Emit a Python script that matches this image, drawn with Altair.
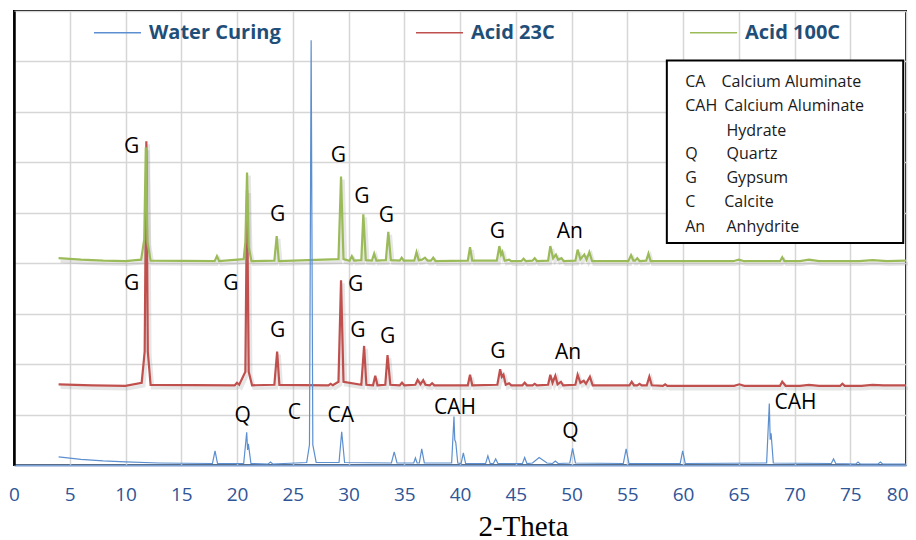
import altair as alt
import pandas as pd

# ---- data (2-Theta, intensity above each series' own baseline) ----
SERIES = ["Water Curing", "Acid 23C", "Acid 100C"]
COLORS = ["#5B8FD0", "#C0504D", "#9BBB59"]
OFFSETS = [0.0, 1.55, 4.02]

water_curing = [
    (4.0, 0.16), (6, 0.11), (8, 0.08), (10, 0.06), (13, 0.04), (17.8, 0.03), (18.03, 0.28), (18.25, 0.03),
    (20.6, 0.03), (20.87, 0.65), (20.95, 0.3), (21.02, 0.42), (21.25, 0.03),
    (22.8, 0.02), (23.0, 0.06), (23.2, 0.02),
    (26.25, 0.05), (26.5, 0.4), (26.65, 8.42), (26.8, 0.4), (27.1, 0.05),
    (29.15, 0.05), (29.39, 0.66), (29.65, 0.05),
    (33.85, 0.04), (34.1, 0.26), (34.35, 0.04),
    (35.85, 0.04), (36.0, 0.14), (36.15, 0.04), (36.35, 0.04), (36.57, 0.32), (36.8, 0.04),
    (39.25, 0.04), (39.46, 0.96), (39.53, 0.5), (39.62, 0.45), (39.8, 0.04),
    (40.1, 0.03), (40.3, 0.24), (40.5, 0.03),
    (42.3, 0.03), (42.5, 0.18), (42.7, 0.03), (43.0, 0.03), (43.2, 0.12), (43.4, 0.03),
    (45.6, 0.03), (45.8, 0.15), (46.0, 0.03), (46.5, 0.04), (47.1, 0.15), (47.8, 0.04),
    (48.3, 0.03), (48.55, 0.08), (48.8, 0.03),
    (49.85, 0.04), (50.1, 0.33), (50.35, 0.04),
    (54.65, 0.03), (54.9, 0.32), (55.15, 0.03),
    (59.75, 0.03), (59.97, 0.28), (60.2, 0.03),
    (67.5, 0.04), (67.74, 1.22), (67.82, 0.5), (67.9, 0.63), (68.1, 0.04),
    (73.3, 0.03), (73.5, 0.12), (73.7, 0.03),
    (75.5, 0.02), (75.7, 0.06), (75.9, 0.02),
    (77.5, 0.02), (77.7, 0.06), (77.9, 0.02), (80, 0.02),
]

acid_23c = [
    (4.0, 0.05), (7, 0.03), (10, 0.02), (11.45, 0.08), (11.72, 0.7), (11.87, 4.87), (12.0, 0.7), (12.25, 0.04),
    (19.8, 0.03), (20.0, 0.08), (20.2, 0.04), (20.75, 0.3), (20.9, 3.9), (21.05, 0.3), (21.35, 0.03),
    (23.35, 0.04), (23.6, 0.70), (23.8, 0.04),
    (28.2, 0.03), (28.4, 0.06), (28.6, 0.03),
    (29.1, 0.1), (29.33, 2.11), (29.55, 0.1),
    (31.15, 0.04), (31.4, 0.81), (31.6, 0.04),
    (32.2, 0.03), (32.4, 0.22), (32.6, 0.03),
    (33.3, 0.04), (33.5, 0.63), (33.75, 0.04),
    (34.6, 0.03), (34.8, 0.08), (35.0, 0.03),
    (36.0, 0.04), (36.2, 0.14), (36.45, 0.05), (36.7, 0.13), (36.9, 0.04),
    (37.3, 0.03), (37.5, 0.07), (37.7, 0.03),
    (40.7, 0.03), (40.9, 0.24), (41.1, 0.03),
    (43.35, 0.04), (43.6, 0.35), (43.75, 0.2), (43.9, 0.24), (44.1, 0.04), (44.4, 0.07), (44.6, 0.03),
    (45.6, 0.03), (45.8, 0.08), (46.0, 0.03), (46.5, 0.03), (46.7, 0.06), (46.9, 0.03),
    (47.9, 0.04), (48.1, 0.24), (48.3, 0.08), (48.55, 0.22), (48.75, 0.05), (49.05, 0.1), (49.25, 0.03),
    (50.35, 0.04), (50.55, 0.24), (50.8, 0.08), (51.1, 0.12), (51.3, 0.06), (51.65, 0.2), (51.9, 0.03),
    (55.2, 0.03), (55.4, 0.1), (55.6, 0.03), (55.9, 0.03), (56.1, 0.06), (56.3, 0.03),
    (56.75, 0.03), (56.98, 0.2), (57.2, 0.03),
    (58.2, 0.02), (58.4, 0.05), (58.6, 0.02),
    (64.6, 0.02), (65.05, 0.05), (65.5, 0.02),
    (68.7, 0.02), (68.9, 0.1), (69.2, 0.02),
    (70.5, 0.02), (71.3, 0.04), (72.2, 0.02),
    (74.1, 0.02), (74.3, 0.06), (74.5, 0.02),
    (76, 0.02), (77, 0.04), (78, 0.03), (80, 0.03),
]

acid_100c = [
    (4.0, 0.08), (6, 0.05), (8, 0.03), (10, 0.02), (11.4, 0.05), (11.68, 0.45), (11.82, 2.28), (11.97, 0.4), (12.25, 0.03),
    (18.0, 0.02), (18.2, 0.12), (18.4, 0.02),
    (20.6, 0.06), (20.75, 0.4), (20.9, 1.78), (21.05, 0.3), (21.3, 0.02),
    (23.35, 0.03), (23.56, 0.52), (23.75, 0.02),
    (29.1, 0.06), (29.33, 1.70), (29.55, 0.06), (30.1, 0.03), (30.3, 0.12), (30.5, 0.03),
    (31.15, 0.04), (31.33, 0.95), (31.55, 0.04),
    (32.1, 0.03), (32.3, 0.17), (32.5, 0.03),
    (33.35, 0.04), (33.57, 0.6), (33.8, 0.04),
    (34.6, 0.03), (34.77, 0.09), (34.95, 0.03),
    (35.9, 0.03), (36.1, 0.2), (36.3, 0.04), (36.6, 0.05), (36.86, 0.09), (37.1, 0.03),
    (37.4, 0.03), (37.6, 0.09), (37.8, 0.02),
    (40.7, 0.03), (40.9, 0.3), (41.1, 0.03),
    (43.3, 0.03), (43.53, 0.32), (43.68, 0.15), (43.8, 0.2), (44.0, 0.03), (44.4, 0.05), (44.6, 0.02),
    (45.5, 0.02), (45.7, 0.07), (45.9, 0.02), (46.5, 0.03), (46.7, 0.08), (46.9, 0.02),
    (47.9, 0.03), (48.1, 0.32), (48.35, 0.08), (48.6, 0.15), (48.8, 0.05), (49.1, 0.08), (49.3, 0.02),
    (50.35, 0.03), (50.55, 0.25), (50.8, 0.06), (51.15, 0.15), (51.35, 0.05), (51.6, 0.2), (51.85, 0.02),
    (55.1, 0.02), (55.34, 0.14), (55.55, 0.03), (55.7, 0.03), (55.9, 0.08), (56.1, 0.02),
    (56.7, 0.03), (56.9, 0.17), (57.1, 0.02),
    (64.5, 0.02), (65.0, 0.05), (65.5, 0.02),
    (68.7, 0.02), (68.9, 0.1), (69.1, 0.02),
    (70.5, 0.02), (71.3, 0.05), (72.2, 0.02),
    (75.8, 0.02), (77, 0.04), (78.3, 0.02), (80, 0.03),
]

# peak annotations (2-Theta, plotted height)
peak_text = ["G", "G", "G", "G", "G", "G", "An",
             "G", "G", "G", "G", "G", "G", "G", "An",
             "Q", "C", "CA", "CAH", "Q", "CAH"]
peak_x = [10.55, 29.1, 31.2, 33.4, 23.65, 43.35, 49.85,
          10.55, 19.45, 30.65, 23.65, 30.85, 33.5, 43.4, 49.7,
          20.5, 25.15, 29.3, 39.55, 49.9, 70.1]
peak_y = [6.31, 6.12, 5.31, 4.93, 4.95, 4.62, 4.62,
          3.58, 3.58, 3.56, 2.65, 2.65, 2.53, 2.25, 2.22,
          0.98, 1.03, 0.98, 1.13, 0.66, 1.22]

# key box
key_abbr = ["CA", "CAH", "", "Q", "G", "C", "An"]
key_desc = ["Calcium Aluminate", "Calcium Aluminate", "Hydrate", "Quartz", "Gypsum", "Calcite", "Anhydrite"]
key_y = [7.59, 7.11, 6.62, 6.16, 5.68, 5.21, 4.72]
key_desc_x = [63.45, 63.7, 63.9, 63.9, 63.9, 63.7, 63.9]
key_abbr_x = 60.2
key_box = {"x": 58.55, "x2": 79.75, "y": 8.02, "y2": 4.40}

# ---- tables ----
rows = []
for name, off, pts in zip(SERIES, OFFSETS, [water_curing, acid_23c, acid_100c]):
    for t, v in pts:
        rows.append({"series": name, "theta": t, "intensity": round(v + off, 4)})
df = pd.DataFrame(rows)

labels_df = pd.DataFrame({"text": peak_text, "theta": peak_x, "intensity": peak_y})
key_df = pd.DataFrame({"abbr": key_abbr, "desc": key_desc, "y": key_y, "dx": key_desc_x,
                       "ax": [key_abbr_x] * len(key_y)})
box_df = pd.DataFrame([key_box])

x_enc = alt.X(
    "theta:Q",
    scale=alt.Scale(domain=[0, 80], nice=False, zero=False),
    axis=alt.Axis(
        values=list(range(0, 81, 5)), title="2-Theta", grid=True, gridColor="#D6D6D6", gridWidth=1.5,
        ticks=False, tickSize=0, domainColor="#7FA2D6", domainWidth=2,
        labelFont="Open Sans", labelFontSize=19, labelColor="#2F5597", labelBaseline="alphabetic",
        labelPadding=35, labelFlush=False,
        labelAlign={"condition": {"test": "datum.value >= 80", "value": "right"}, "value": "center"},
        labelOffset={"condition": {"test": "datum.value >= 80", "value": 2}, "value": 0},
        titleFont="Liberation Serif", titleFontSize=29, titleFontWeight="normal", titleColor="black",
        titleX=509, titleY=70, titleBaseline="alphabetic", titleAlign="center",
    ),
)
y_enc = alt.Y(
    "intensity:Q",
    scale=alt.Scale(domain=[0, 9], nice=False),
    axis=alt.Axis(values=list(range(0, 10)), labels=False, ticks=False, title=None, grid=True,
                  gridColor="#D6D6D6", gridWidth=1.5, domainColor="black", domainWidth=2.5),
)
color_enc = alt.Color(
    "series:N",
    scale=alt.Scale(domain=SERIES, range=COLORS),
    legend=alt.Legend(
        title=None, orient="none", legendX=79, legendY=-3, direction="horizontal",
        symbolType="stroke", symbolSize=2209, symbolStrokeWidth=1.5,
        labelFont="Open Sans", labelFontSize=20, labelFontWeight="bold", labelColor="#1F4E79",
        labelOffset=7, columnPadding=132, padding=0, labelLimit=300,
    ),
)

base = alt.Chart(df)


def series_line(name, width):
    return base.transform_filter(alt.datum.series == name).mark_line(strokeWidth=width).encode(
        x=x_enc, y=y_enc, color=color_enc)


def series_shadow(name):
    return base.transform_filter(alt.datum.series == name).mark_line(
        strokeWidth=3.5, color="#8c8c8c", opacity=0.22, xOffset=2, yOffset=3
    ).encode(x=x_enc, y=y_enc)


peak_labels = alt.Chart(labels_df).mark_text(
    font="Open Sans", fontSize=21, color="black", align="center", baseline="middle"
).encode(x="theta:Q", y="intensity:Q", text="text:N")

box = alt.Chart(box_df).mark_rect(fill="white", stroke="black", strokeWidth=2).encode(
    x="x:Q", x2="x2", y="y:Q", y2="y2")
key_a = alt.Chart(key_df).mark_text(font="Open Sans", fontSize=16, color="#1a1a1a", align="left",
                                    baseline="middle").encode(x="ax:Q", y="y:Q", text="abbr:N")
key_d = alt.Chart(key_df).mark_text(font="Open Sans", fontSize=16, color="#1a1a1a", align="left",
                                    baseline="middle").encode(x="dx:Q", y="y:Q", text="desc:N")

chart = alt.layer(
    series_shadow("Acid 23C"), series_line("Acid 23C", 2.2),
    series_shadow("Acid 100C"), series_line("Acid 100C", 2.2),
    series_line("Water Curing", 1.2),
    peak_labels, box, key_a, key_d,
).properties(
    width=892, height=454,
    autosize=alt.AutoSizeParams(type="none"),
    padding={"left": 6, "top": 3, "right": 2, "bottom": 75},
    background="white",
).configure_view(stroke="black", strokeWidth=2)

chart.save("out.html", embed_options={"renderer": "svg", "actions": False})
